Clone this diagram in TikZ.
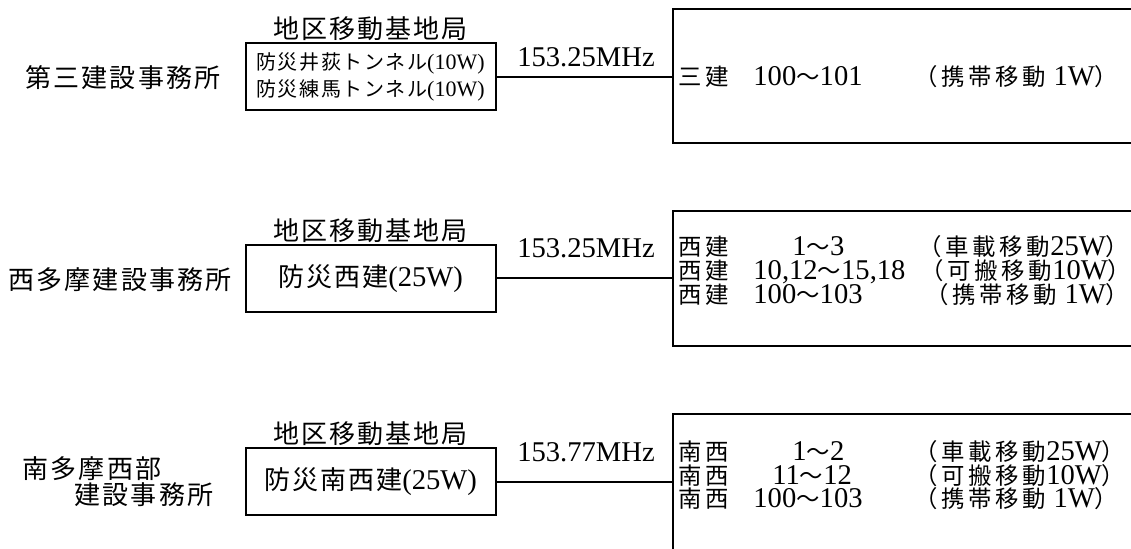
\documentclass[tikz,border=0pt]{standalone}
\usepackage{fontspec}
\setmainfont{Liberation Serif}[Scale=1.1]
\newfontfamily\jp{Noto Sans CJK JP}[LetterSpace=8]
\newfontfamily\jps{Noto Sans CJK JP}[Scale=0.9, LetterSpace=16]
\usepackage{tikz}

\begin{document}
\begin{tikzpicture}[x=0.5pt, y=-0.5pt,
  stn/.style={draw, line width=1pt, outer sep=0pt, inner sep=0pt, minimum width=125pt, minimum height=33.5pt, align=center, font=\fontsize{13}{13}\selectfont},
  grp/.style={draw, line width=1pt, outer sep=0pt, anchor=north west, minimum width=240pt},
  lbl/.style={inner sep=0pt, font=\jp\fontsize{13}{11.5}\selectfont},
  freq/.style={inner sep=0pt, font=\fontsize{13}{13}\selectfont},
  row/.style={inner sep=0pt, anchor=base west, font=\fontsize{13}{13}\selectfont},
  link/.style={line width=1pt}]
  \useasboundingbox (0,0) rectangle (1131,548);
  \fill[white] (0,0) rectangle (1131,548);
  \clip (0,0) rectangle (1131,548);

  % base stations
  \node[stn, font=\fontsize{10}{13.5}\selectfont] (b1) at (370.5,76.5) {{\jp 防災井荻トンネル}(10W)\\{\jp 防災練馬トンネル}(10W)};
  \node[stn] (b2) at (370.5,278.4) {{\jp 防災西建}(25W)};
  \node[stn] (b3) at (370.5,481.5) {{\jp 防災南西建}(25W)};
  \node[lbl] (t1) at (370.5,29) {地区移動基地局};
  \node[lbl] (t2) at (370.5,231) {地区移動基地局};
  \node[lbl] (t3) at (370.5,434) {地区移動基地局};

  % offices
  \node[lbl] (o1) at (123,78) {第三建設事務所};
  \node[lbl] (o2) at (120,279.5) {西多摩建設事務所};
  \node[lbl, align=left] (o3) at (118,481.5) {南多摩西部\\\hspace*{2em}建設事務所};

  % mobile groups
  \node[grp, minimum height=67.25pt] (g1) at (673,8.5) {};
  \node[grp, minimum height=67.5pt] (g2) at (673,211) {};
  \node[grp, minimum height=75pt] (g3) at (673,414.4) {};

  % links
  \draw[link] (b1.east) -- (b1.east -| g1.west);
  \draw[link] (b2.east) -- (b2.east -| g2.west);
  \draw[link] (b3.east) -- (b3.east -| g3.west);
  \node[freq] (f1) at (586,57) {153.25MHz};
  \node[freq] (f2) at (586,248) {153.25MHz};
  \node[freq] (f3) at (586,452.7) {153.77MHz};

  % sanken
  \node[row] (g1a) at (678,85) {\jps 三建};
  \node[row] (g1b) at (753,85) {100{\jps ～}101};
  \node[row] (g1c) at (914,85) {{\jps （携帯移動} 1W{\jps ）}};

  % nishiken
  \node[row] (g2a1) at (678,255) {\jps 西建};
  \node[row] (g2b1) at (792,255) {1{\jps ～}3};
  \node[row] (g2c1) at (918,255) {{\jps （車載移動}25W{\jps ）}};
  \node[row] (g2a2) at (678,279) {\jps 西建};
  \node[row] (g2b2) at (753,279) {10,12{\jps ～}15,18};
  \node[row] (g2c2) at (920,279) {{\jps （可搬移動}10W{\jps ）}};
  \node[row] (g2a3) at (678,303) {\jps 西建};
  \node[row] (g2b3) at (753,303) {100{\jps ～}103};
  \node[row] (g2c3) at (925,303) {{\jps （携帯移動} 1W{\jps ）}};

  % nansei
  \node[row] (g3a1) at (678,460) {\jps 南西};
  \node[row] (g3b1) at (792,460) {1{\jps ～}2};
  \node[row] (g3c1) at (914,460) {{\jps （車載移動}25W{\jps ）}};
  \node[row] (g3a2) at (678,484) {\jps 南西};
  \node[row] (g3b2) at (772,484) {11{\jps ～}12};
  \node[row] (g3c2) at (914,484) {{\jps （可搬移動}10W{\jps ）}};
  \node[row] (g3a3) at (678,507.5) {\jps 南西};
  \node[row] (g3b3) at (753,507.5) {100{\jps ～}103};
  \node[row] (g3c3) at (914,507.5) {{\jps （携帯移動} 1W{\jps ）}};
\end{tikzpicture}
\end{document}
